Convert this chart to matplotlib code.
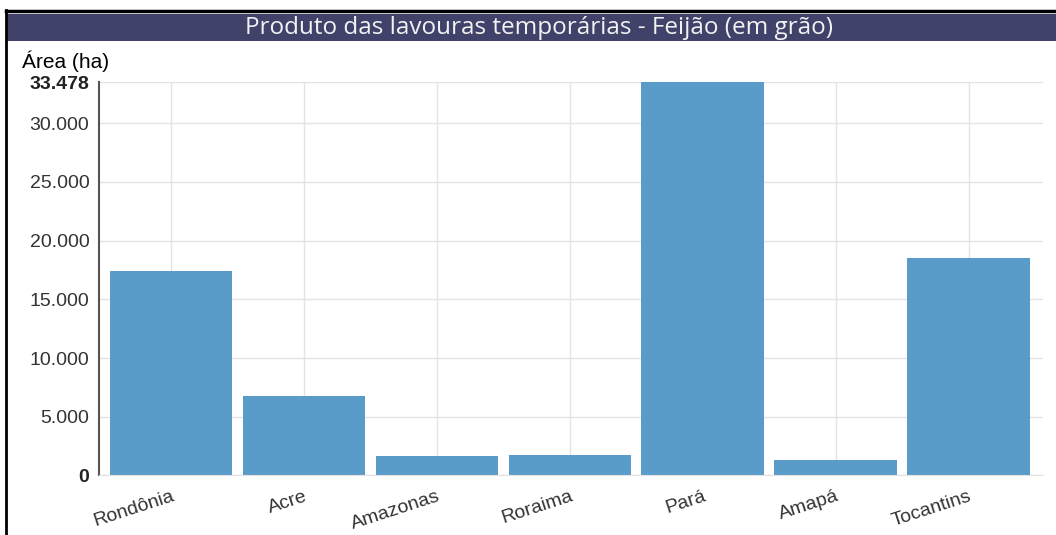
import matplotlib
matplotlib.use('Agg')
import matplotlib.pyplot as plt
from matplotlib.patches import Rectangle
from matplotlib.lines import Line2D

# dados (área em ha)
estados = ["Rondônia", "Acre", "Amazonas", "Roraima", "Pará", "Amapá", "Tocantins"]
area_ha = [17436, 6763, 1627, 1763, 33478, 1286, 18543]
y_ticks = [0, 5000, 10000, 15000, 20000, 25000, 30000, 33478]
y_labels = ["0", "5.000", "10.000", "15.000", "20.000", "25.000", "30.000", "33.478"]

plt.rcParams['font.family'] = ['Liberation Sans', 'DejaVu Sans']

fig = plt.figure(figsize=(10.56, 5.35), dpi=100)

# moldura e faixa do título
fig.add_artist(Line2D([6 / 1056, 6 / 1056], [0, 1 - 10 / 535], transform=fig.transFigure, color='black', lw=2))
fig.add_artist(Line2D([6 / 1056, 1], [1 - 11 / 535, 1 - 11 / 535], transform=fig.transFigure, color='black', lw=2.5))
fig.add_artist(Rectangle((7 / 1056, 1 - 41 / 535), 1, 27 / 535, transform=fig.transFigure,
                         facecolor='#41426a', edgecolor='none'))
fig.text(539 / 1056, 1 - 27.5 / 535, "Produto das lavouras temporárias - Feijão (em grão)",
         color='#f2f2f2', fontsize=17.5, family=['Open Sans', 'DejaVu Sans'],
         ha='center', va='center')
fig.text(22 / 1056, 1 - 61 / 535, "Área (ha)", fontsize=15, ha='left', va='center',
         family=['Liberation Sans Narrow', 'Liberation Sans'])

ax = fig.add_axes([99 / 1056, 1 - 475.4 / 535, (1043 - 99) / 1056, (475.4 - 82.4) / 535])
x = list(range(len(estados)))
ax.bar(x, area_ha, width=0.92, color='#5097c8', alpha=0.95, zorder=2)

ax.set_xlim(-0.54, 6.56)
ax.set_ylim(0, 33478)
ax.set_yticks(y_ticks)
ax.set_yticklabels(y_labels)
ax.set_xticks(x)
ax.set_xticklabels(estados, rotation=18, ha='right', rotation_mode='anchor')

ax.grid(True, color='#e3e3e3', lw=1)
ax.set_axisbelow(True)
ax.tick_params(axis='both', length=0, colors='#333333')
ax.tick_params(axis='y', pad=7, labelsize=14)
ax.tick_params(axis='x', pad=9, labelsize=14)
for lab in ax.get_yticklabels():
    if lab.get_text() in ("0", "33.478"):
        lab.set_fontweight('bold')
        lab.set_color('#222222')

for s in ['top', 'right']:
    ax.spines[s].set_visible(False)
ax.spines['bottom'].set_color('#e3e3e3')
ax.spines['left'].set_color('#555555')
ax.spines['left'].set_linewidth(1.5)

plt.savefig('out.png', dpi=100)
